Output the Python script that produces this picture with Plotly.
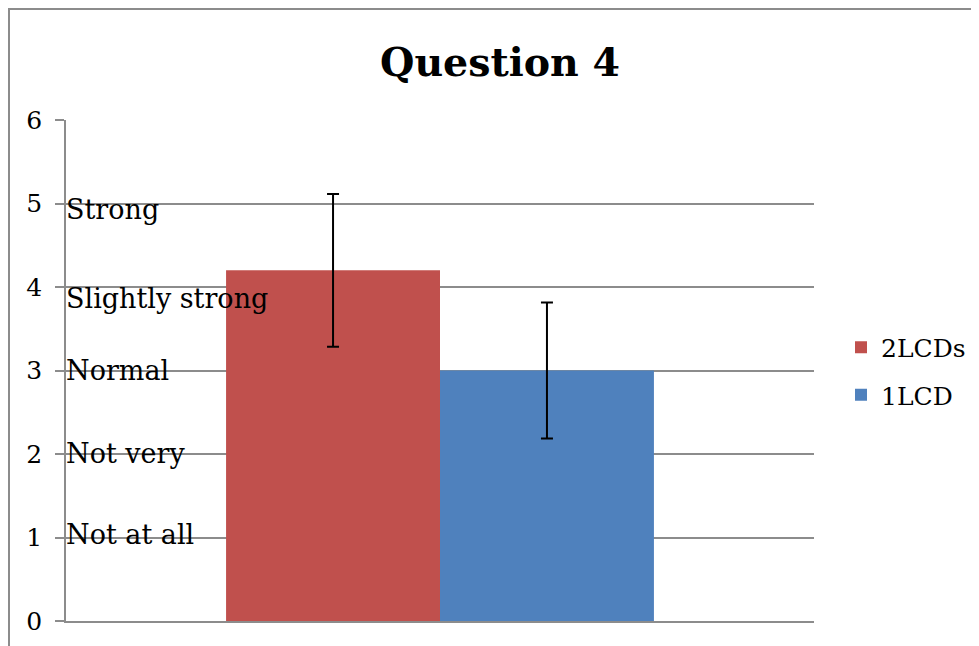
import plotly.graph_objects as go

category = ["Question 4"]
series_names = ["2LCDs", "1LCD"]
series_values = [4.2, 3.0]
series_errors = [0.915, 0.815]
series_colors = ["#C0504D", "#4F81BD"]

level_labels = ["Strong", "Slightly strong", "Normal", "Not very", "Not at all"]
level_label_y = [4.93, 3.86, 3.0, 2.01, 1.04]
y_ticks = [0, 1, 2, 3, 4, 5, 6]

FONT = "DejaVu Serif"
O = 8  # default page body margin
W, H = 979 - O, 646 - O
# plot area in page pixels: x 66..814, y 120..621
L, R, T, B = 66 - O, 979 - 814, 120 - O, 646 - 621
pw, ph = W - L - R, H - T - B


def px_x(p):  # page pixel -> paper x
    return (p - 66) / pw


def px_y(p):  # page pixel -> paper y
    return (621 - p) / ph


fig = go.Figure()
for name, val, err, col in zip(series_names, series_values, series_errors, series_colors):
    fig.add_trace(go.Bar(
        x=category, y=[val], name=name, marker_color=col, marker_line_width=0,
        legendgroup=name,
        error_y=dict(type="data", array=[err], color="black", thickness=2, width=6),
    ))

annotations = []
for txt, yv in zip(level_labels, level_label_y):
    annotations.append(dict(
        x=px_x(64), xref="paper", y=yv, yref="y", text=txt, showarrow=False,
        xanchor="left", yanchor="middle", font=dict(family=FONT, size=27, color="black"),
    ))

fig.update_layout(
    width=W, height=H,
    margin=dict(l=L, r=R, t=T, b=B),
    paper_bgcolor="white", plot_bgcolor="white",
    barmode="group", bargap=0.428, bargroupgap=0,
    title=dict(text="<b>Question 4</b>", x=px_x(500), xref="paper", xanchor="center",
               y=1 - (62 - O) / H, yref="container", yanchor="middle",
               font=dict(family=FONT, size=39.5, color="black")),
    font=dict(family=FONT, color="black"),
    showlegend=True,
    legend=dict(xref="container", yref="container",
                x=(841 - O) / W, xanchor="left", y=1 - (371 - O) / H, yanchor="middle",
                font=dict(family=FONT, size=25, color="black"),
                tracegroupgap=12, bgcolor="rgba(0,0,0,0)"),
    annotations=annotations,
    shapes=[dict(type="rect", xref="paper", yref="paper",
                 x0=px_x(9), x1=px_x(1010),
                 y0=px_y(700), y1=px_y(9),
                 line=dict(color="#8c8c8c", width=2), layer="below")],
)

fig.update_xaxes(showticklabels=False, showgrid=False, zeroline=False, showline=True,
                 linecolor="#8c8c8c", linewidth=1.5, automargin=False,
                 ticks="", range=[-0.5, 0.5])
fig.update_yaxes(range=[0, 6], tickvals=y_ticks, showgrid=True, gridcolor="#8c8c8c",
                 gridwidth=1.5, zeroline=False, showline=True, linecolor="#8c8c8c",
                 linewidth=1.5, ticks="outside", ticklen=9, tickcolor="#8c8c8c",
                 tickwidth=1.5, ticklabelstandoff=8, automargin=False,
                 tickfont=dict(family=FONT, size=25, color="black"))

fig.write_html("out.html")
